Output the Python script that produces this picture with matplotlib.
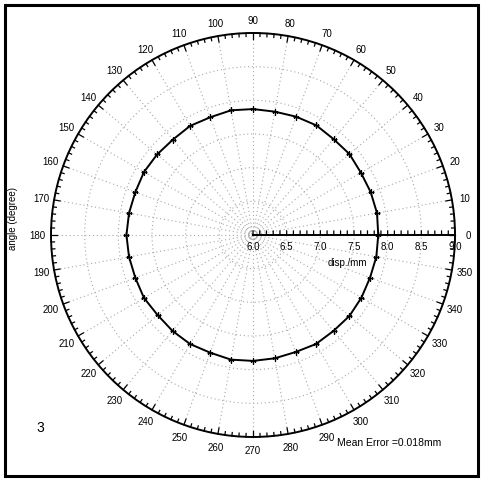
import matplotlib.pyplot as plt
import numpy as np
from matplotlib.patches import Rectangle

plt.rcParams['font.family'] = ['Liberation Sans', 'DejaVu Sans']

# measured displacement at each angle (deg -> mm)
angles_deg = [0, 10, 20, 30, 40, 50, 60, 70, 80, 90, 100, 110, 120, 130, 140, 150, 160, 170,
              180, 190, 200, 210, 220, 230, 240, 250, 260, 270, 280, 290, 300, 310, 320, 330, 340, 350]
disp_mm = [7.86, 7.87, 7.86, 7.85, 7.87, 7.86, 7.88, 7.87, 7.86, 7.87, 7.88, 7.86, 7.87, 7.85, 7.86, 7.87, 7.86, 7.87,
           7.88, 7.87, 7.86, 7.87, 7.85, 7.86, 7.87, 7.86, 7.88, 7.87, 7.86, 7.85, 7.87, 7.86, 7.87, 7.86, 7.85, 7.86]
r_ticks = [6.0, 6.5, 7.0, 7.5, 8.0, 8.5, 9.0]
r_labels = ['6.0', '6.5', '7.0', '7.5', '8.0', '8.5', '9.0']
theta_ticks = list(range(0, 360, 10))

fig = plt.figure(figsize=(4.84, 4.81), dpi=100)
fig.patches.append(Rectangle((0.011, 0.009), 0.976, 0.979, transform=fig.transFigure,
                             fill=False, edgecolor='black', linewidth=2.2))

ax = fig.add_axes([0.1054, 0.0894, 0.8347, 0.840], projection='polar')
ax.set_rlim(6.0, 9.0)
ax.set_thetagrids(theta_ticks, [str(t) for t in theta_ticks], fontsize=7)
ax.tick_params(axis='x', pad=-1)
ax.set_rgrids([6.03, 6.06, 6.5, 7.0, 7.5, 8.0, 8.5], labels=[''] * 7)
ax.grid(True, color='#a8a8a8', linestyle=(0, (1, 2.5)), linewidth=0.8)
ax.spines['polar'].set_linewidth(1.4)

# outer ring ticks pointing inward
for a in range(0, 360, 2):
    t = np.radians(a)
    d = 0.09 if a % 10 == 0 else 0.05
    ax.plot([t, t], [9.0, 9.0 - d], color='black', linewidth=0.9, clip_on=False)

# radial axis along 0 deg
ax.plot([0, 0], [6.0, 9.0], color='black', linewidth=1.4)
for r in np.arange(6.0, 9.001, 0.1):
    ax.annotate('', xy=(0, r), xytext=(0, 3), textcoords='offset points',
                arrowprops=dict(arrowstyle='-', color='black', linewidth=0.9, shrinkA=0, shrinkB=0))
for r, lab in zip(r_ticks, r_labels):
    ax.annotate(lab, xy=(0, r), xytext=(0, -4), textcoords='offset points',
                ha='center', va='top', fontsize=7)
ax.annotate('disp./mm', xy=(0, 7.4), xytext=(0, -16), textcoords='offset points',
            ha='center', va='top', fontsize=7)

theta = np.radians(angles_deg + [angles_deg[0]])
rr = disp_mm + [disp_mm[0]]
ax.plot(theta, rr, color='black', linewidth=1.4, marker='+', markersize=4, markeredgewidth=1.0)

fig.text(0.027, 0.545, 'angle (degree)', rotation=90, ha='center', va='center', fontsize=7)
fig.text(0.075, 0.11, '3', fontsize=10, ha='left', va='center')
fig.text(0.697, 0.079, 'Mean Error =0.018mm', fontsize=7.5, ha='left', va='center')

fig.savefig('out.png', dpi=100)
